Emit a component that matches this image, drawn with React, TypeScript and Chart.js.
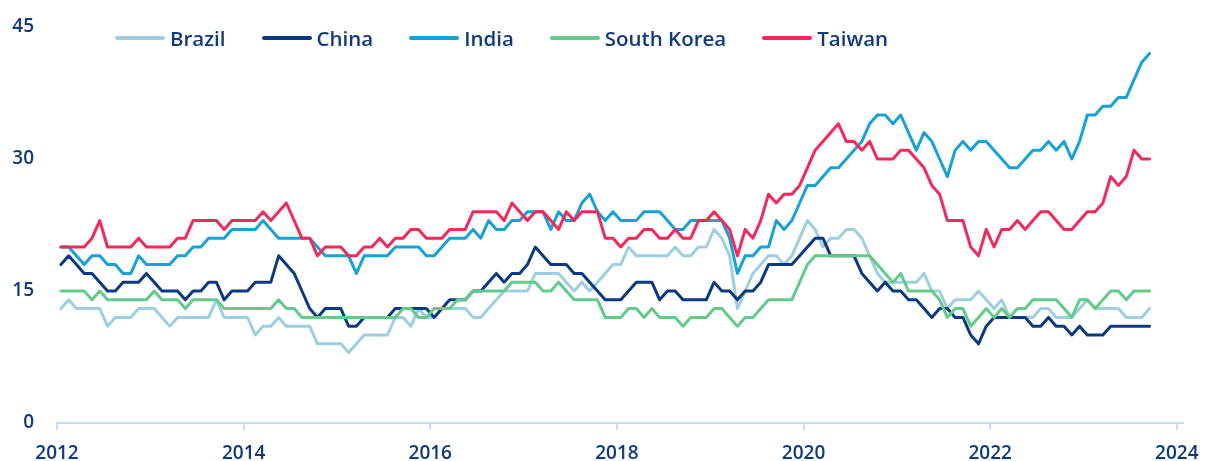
import React, { useEffect, useRef } from "react";
import { Chart, registerables } from "chart.js";

Chart.register(...registerables);

// Monthly series, Jan 2012 .. Sep 2023
const brazil = [
  13, 14, 13, 13, 13, 13, 11, 12, 12, 12,
  13, 13, 13, 12, 11, 12, 12, 12, 12, 12,
  14, 12, 12, 12, 12, 10, 11, 11, 12, 11,
  11, 11, 11, 9, 9, 9, 9, 8, 9, 10,
  10, 10, 10, 12, 12, 11, 13, 12, 12, 13,
  13, 13, 13, 12, 12, 13, 14, 15, 15, 15,
  15, 17, 17, 17, 17, 16, 15, 16, 15, 16,
  17, 18, 18, 20, 19, 19, 19, 19, 19, 20,
  19, 19, 20, 20, 22, 21, 19, 13, 15, 17,
  18, 19, 19, 18, 19, 21, 23, 22, 20, 21,
  21, 22, 22, 21, 19, 17, 16, 16, 16, 16,
  16, 17, 15, 15, 13, 14, 14, 14, 15, 14,
  13, 14, 12, 12, 12, 12, 13, 13, 12, 12,
  12, 13, 14, 13, 13, 13, 13, 12, 12, 12, 13,
];

const china = [
  18, 19, 18, 17, 17, 16, 15, 15, 16, 16,
  16, 17, 16, 15, 15, 15, 14, 15, 15, 16,
  16, 14, 15, 15, 15, 16, 16, 16, 19, 18,
  17, 15, 13, 12, 13, 13, 13, 11, 11, 12,
  12, 12, 12, 13, 13, 13, 13, 13, 12, 13,
  14, 14, 14, 15, 15, 16, 17, 16, 17, 17,
  18, 20, 19, 18, 18, 18, 17, 17, 16, 15,
  14, 14, 14, 15, 16, 16, 16, 14, 15, 15,
  14, 14, 14, 14, 16, 15, 15, 14, 15, 15,
  16, 18, 18, 18, 18, 19, 20, 21, 21, 19,
  19, 19, 19, 17, 16, 15, 16, 15, 15, 14,
  14, 13, 12, 13, 13, 12, 12, 10, 9, 11,
  12, 12, 12, 12, 12, 11, 11, 12, 11, 11,
  10, 11, 10, 10, 10, 11, 11, 11, 11, 11, 11,
];

const india = [
  20, 20, 19, 18, 19, 19, 18, 18, 17, 17,
  19, 18, 18, 18, 18, 19, 19, 20, 20, 21,
  21, 21, 22, 22, 22, 22, 23, 22, 21, 21,
  21, 21, 21, 20, 19, 19, 19, 19, 17, 19,
  19, 19, 19, 20, 20, 20, 20, 19, 19, 20,
  21, 21, 21, 22, 21, 23, 22, 22, 23, 23,
  24, 24, 24, 22, 24, 23, 23, 25, 26, 24,
  23, 24, 23, 23, 23, 24, 24, 24, 23, 22,
  22, 23, 23, 23, 23, 23, 21, 17, 19, 19,
  20, 20, 23, 22, 23, 25, 27, 27, 28, 29,
  29, 30, 31, 32, 34, 35, 35, 34, 35, 33,
  31, 33, 32, 30, 28, 31, 32, 31, 32, 32,
  31, 30, 29, 29, 30, 31, 31, 32, 31, 32,
  30, 32, 35, 35, 36, 36, 37, 37, 39, 41, 42,
];

const southKorea = [
  15, 15, 15, 15, 14, 15, 14, 14, 14, 14,
  14, 14, 15, 14, 14, 14, 13, 14, 14, 14,
  14, 13, 13, 13, 13, 13, 13, 13, 14, 13,
  13, 12, 12, 12, 12, 12, 12, 12, 12, 12,
  12, 12, 12, 12, 13, 13, 12, 12, 13, 13,
  13, 14, 14, 15, 15, 15, 15, 15, 16, 16,
  16, 16, 15, 15, 16, 15, 14, 14, 14, 14,
  12, 12, 12, 13, 13, 12, 13, 12, 12, 12,
  11, 12, 12, 12, 13, 13, 12, 11, 12, 12,
  13, 14, 14, 14, 14, 16, 18, 19, 19, 19,
  19, 19, 19, 19, 19, 18, 17, 16, 17, 15,
  15, 15, 15, 14, 12, 13, 13, 11, 12, 13,
  12, 13, 12, 13, 13, 14, 14, 14, 14, 13,
  12, 14, 14, 13, 14, 15, 15, 14, 15, 15, 15,
];

const taiwan = [
  20, 20, 20, 20, 21, 23, 20, 20, 20, 20,
  21, 20, 20, 20, 20, 21, 21, 23, 23, 23,
  23, 22, 23, 23, 23, 23, 24, 23, 24, 25,
  23, 21, 21, 19, 20, 20, 20, 19, 19, 20,
  20, 21, 20, 21, 21, 22, 22, 21, 21, 21,
  22, 22, 22, 24, 24, 24, 24, 23, 25, 24,
  23, 24, 24, 23, 22, 24, 23, 24, 24, 24,
  21, 21, 20, 21, 21, 22, 22, 21, 21, 22,
  21, 21, 23, 23, 24, 23, 22, 19, 22, 21,
  23, 26, 25, 26, 26, 27, 29, 31, 32, 33,
  34, 32, 32, 31, 32, 30, 30, 30, 31, 31,
  30, 29, 27, 26, 23, 23, 23, 20, 19, 22,
  20, 22, 22, 23, 22, 23, 24, 24, 23, 22,
  22, 23, 24, 24, 25, 28, 27, 28, 31, 30, 30,
];

const seriesNames = ["Brazil", "China", "India", "South Korea", "Taiwan"];
const tickYears = [2012, 2014, 2016, 2018, 2020, 2022, 2024];
const yTicks = [0, 15, 30, 45];
const startYear = 2012;

const colors = ["#9dcfe0", "#0b3a80", "#17a2d6", "#62cb8b", "#f2295c"];
const textColor = "#0f3a7c";
const axisColor = "#c9ddf5";
const fontFamily = "'Open Sans', 'Noto Sans', sans-serif";

export default function App() {
  const ref = useRef<HTMLCanvasElement>(null);

  useEffect(() => {
    document.body.style.margin = "0";
    const all = [brazil, china, india, southKorea, taiwan];
    const datasets = all.map((vals, idx) => ({
      label: seriesNames[idx],
      data: vals.map((v, i) => ({ x: i + 0.5, y: v })),
      borderColor: colors[idx],
      backgroundColor: colors[idx],
      borderWidth: 3,
      pointRadius: 0,
      tension: 0,
      borderJoinStyle: "round" as const,
      borderCapStyle: "round" as const,
      order: all.length - idx,
    }));

    const chart = new Chart(ref.current as HTMLCanvasElement, {
      type: "line",
      data: { datasets },
      options: {
        animation: false,
        responsive: false,
        devicePixelRatio: 1,
        layout: { padding: { top: 27, right: 23, left: 0, bottom: 0 } },
        plugins: { legend: { display: false }, tooltip: { enabled: false } },
        scales: {
          x: {
            type: "linear",
            min: 0,
            max: 144.8,
            afterFit: (s: any) => {
              s.height = 38;
              s.paddingLeft = 0;
              s.paddingRight = 0;
            },
            afterBuildTicks: (s: any) => {
              s.ticks = tickYears.map((y) => ({ value: (y - startYear) * 12 }));
            },
            ticks: {
              autoSkip: false,
              maxRotation: 0,
              padding: 12,
              color: textColor,
              font: { family: fontFamily, size: 19, weight: "600" },
              callback: (v: any) => String(startYear + Math.round(Number(v) / 12)),
            },
            grid: {
              display: true,
              drawOnChartArea: false,
              drawTicks: true,
              tickLength: 7,
              color: axisColor,
              lineWidth: 2,
            },
            border: { display: true, color: axisColor, width: 2 },
          },
          y: {
            min: 0,
            max: 45,
            afterFit: (s: any) => {
              s.width = 57;
              s.paddingTop = 0;
              s.paddingBottom = 0;
            },
            afterBuildTicks: (s: any) => {
              s.ticks = yTicks.map((v) => ({ value: v }));
            },
            ticks: {
              padding: 23,
              color: textColor,
              font: { family: fontFamily, size: 19, weight: "600" },
            },
            grid: { display: false, drawTicks: false },
            border: { display: false },
          },
        },
      },
    });
    return () => chart.destroy();
  }, []);

  return (
    <div style={{ position: "relative", width: 1206, height: 461, background: "#fff" }}>
      <canvas ref={ref} width={1206} height={461} style={{ display: "block" }} />
      <div
        style={{
          position: "absolute",
          left: 115,
          top: 25,
          height: 25,
          display: "flex",
          alignItems: "center",
          gap: 36,
          fontFamily,
          fontSize: 20.5,
          fontWeight: 600,
          color: textColor,
          whiteSpace: "nowrap",
        }}
      >
        {seriesNames.map((n, i) => (
          <div key={n} style={{ display: "flex", alignItems: "center" }}>
            <span
              style={{
                display: "inline-block",
                width: 50,
                height: 4,
                borderRadius: 2,
                background: colors[i],
                marginRight: 5,
              }}
            />
            <span>{n}</span>
          </div>
        ))}
      </div>
    </div>
  );
}
